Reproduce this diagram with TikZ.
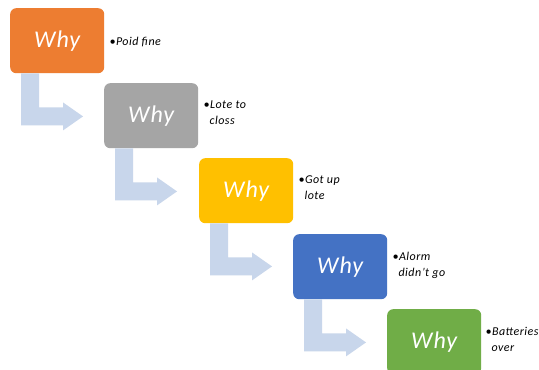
\documentclass[tikz,border=0pt]{standalone}
\usepackage{fontspec}
\setmainfont{Carlito}
\usetikzlibrary{calc}
\definecolor{c1}{HTML}{ED7D31}
\definecolor{c2}{HTML}{A5A5A5}
\definecolor{c3}{HTML}{FFC000}
\definecolor{c4}{HTML}{4472C4}
\definecolor{c5}{HTML}{70AD47}
\definecolor{arrowc}{HTML}{C8D6EB}
\tikzset{
  whybox/.style={rounded corners=6pt, minimum width=94pt, minimum height=65pt, inner sep=0pt,
    text=white, font=\fontsize{24}{26}\selectfont\itshape\addfontfeature{LetterSpace=4}, anchor=north west},
  note/.style={anchor=north west, inner sep=0pt, align=left,
    font=\fontsize{12}{16}\selectfont\itshape\addfontfeature{LetterSpace=4}},
  bent/.style={fill=arrowc, draw=none}
}
\newcommand{\bentarrow}[1]{%
  \fill[arrowc]
    ($(#1.south west)+(11,0)$) -- ($(#1.south west)+(29,0)$) --
    ($(#1.south west)+(29,34)$) -- ($(#1.south west)+(53,34)$) --
    ($(#1.south west)+(53,29)$) -- ($(#1.south west)+(73,43)$) --
    ($(#1.south west)+(53,57)$) -- ($(#1.south west)+(53,52)$) --
    ($(#1.south west)+(11,52)$) -- cycle;}
\begin{document}
\begin{tikzpicture}[x=1pt,y=-1pt]
\useasboundingbox[fill=white] (0,0) rectangle (539,370);
\node[whybox, fill=c1] (b1) at (10,8) {Why};
\node[whybox, fill=c2] (b2) at (104,83) {Why};
\node[whybox, fill=c3] (b3) at (199,158) {Why};
\node[whybox, fill=c4] (b4) at (293,234) {Why};
\node[whybox, fill=c5] (b5) at (387,309) {Why};
\bentarrow{b1}
\bentarrow{b2}
\bentarrow{b3}
\bentarrow{b4}
\node[note] (t1) at ($(b1.north east)+(5,29)$) {•Poid fine};
\node[note] (t2) at ($(b2.north east)+(5,18)$) {•Lote to\\\phantom{•}closs};
\node[note] (t3) at ($(b3.north east)+(5,18)$) {•Got up\\\phantom{•}lote};
\node[note] (t4) at ($(b4.north east)+(5,18)$) {•Alorm\\\phantom{•}didn’t go};
\node[note] (t5) at ($(b5.north east)+(4,18)$) {•Batteries\\\phantom{•}over};
\end{tikzpicture}
\end{document}
